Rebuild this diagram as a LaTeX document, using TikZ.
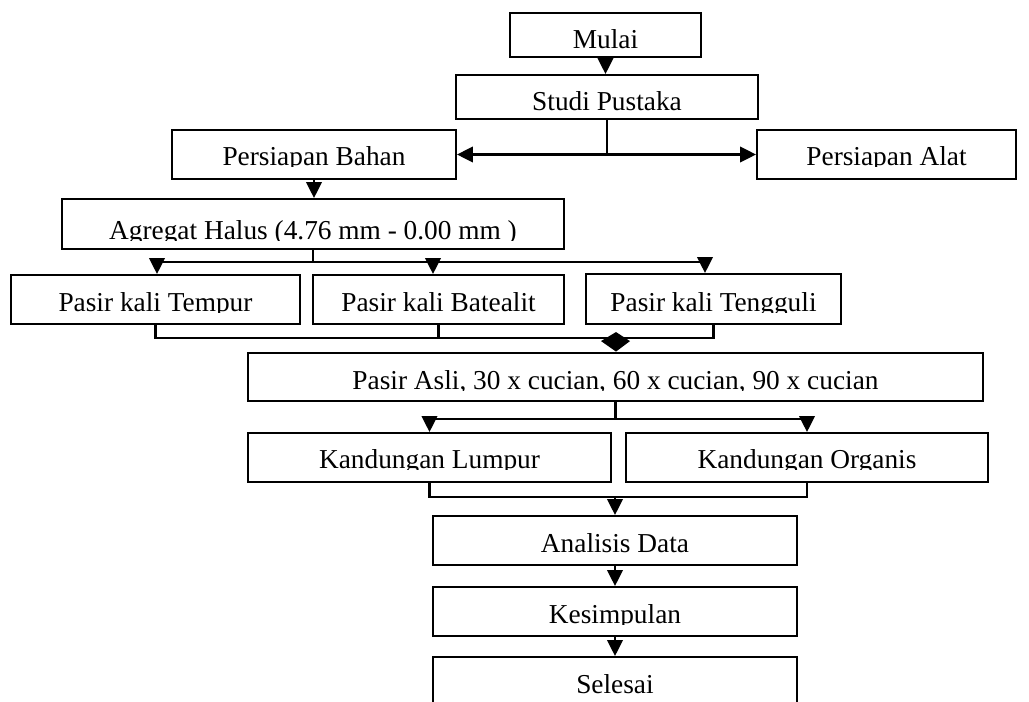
\documentclass[tikz,border=0pt]{standalone}
\usepackage{fontspec}
\setmainfont{Liberation Serif}
\usetikzlibrary{fit,arrows.meta,calc}
\tikzset{
  box/.style={draw, line width=1.4pt, inner sep=0pt, rectangle},
  conn/.style={line width=2pt},
  arr/.style={conn, -{Triangle[length=12pt,width=11.5pt]}},
  lbl/.style={anchor=base, inner sep=0pt, font=\fontsize{20.5}{24}\selectfont},
}
\newcommand\flowbox[7]{%
  \node[box, fit={(#2,#3) (#4,#5)}] (#1) {};
  \begin{scope}
    \clip (#2,#3) rectangle (#4,{#6+1.5});
    \node[lbl] (#1-t) at ({(#2+#4)/2},#6) {#7};
  \end{scope}}
\begin{document}
\begin{tikzpicture}[x=0.75pt,y=-0.75pt]
\useasboundingbox (0,0) rectangle (1029,701);
\clip (0,0) rectangle (1029,701);
\flowbox{mulai}{510}{13}{701}{57}{48}{Mulai}
\flowbox{studi}{456}{75}{758}{119}{110}{Studi Pustaka}
\flowbox{bahan}{172}{130}{456}{179}{165}{Persiapan Bahan}
\flowbox{alat}{757}{130}{1016}{179}{165}{Persiapan Alat}
\flowbox{agregat}{62}{199}{564}{249}{239}{Agregat Halus (4.76 mm - 0.00 mm )}
\flowbox{tempur}{11}{275}{300}{324}{311}{Pasir kali Tempur}
\flowbox{batealit}{313}{275}{564}{324}{311}{Pasir kali Batealit}
\flowbox{tengguli}{586}{274}{841}{324}{311}{Pasir kali Tengguli}
\flowbox{asli}{248}{353}{983}{401}{389}{Pasir Asli, 30 x cucian, 60 x cucian, 90 x cucian}
\flowbox{lumpur}{248}{433}{611}{482}{468}{Kandungan Lumpur}
\flowbox{organis}{626}{433}{988}{482}{468}{Kandungan Organis}
\flowbox{analisis}{433}{516}{797}{565}{552}{Analisis Data}
\flowbox{kesimpulan}{433}{587}{797}{636}{623}{Kesimpulan}
\flowbox{selesai}{433}{657}{797}{712}{693}{Selesai}
% connectors
\draw[arr] (mulai.south) -- (mulai.south |- studi.north);
\coordinate (s1) at (studi.south |- bahan.east);
\draw[conn] (studi.south) -- (s1);
\draw[arr] (s1) -- (bahan.east);
\draw[arr] (s1) -- (alat.west);
\draw[arr] (bahan.south) -- (bahan.south |- agregat.north);
\coordinate (a1) at ($(agregat.south)+(0,12)$);
\draw[conn] (agregat.south) -- (a1);
\draw[arr] (a1) -| ($(tempur.north)+(1.5,0)$);
\draw[arr] (a1) -| ($(batealit.north)+(-5.5,0)$);
\draw[arr] (a1) -| ($(tengguli.north)+(-8.5,0)$);
\coordinate (m1) at ($(asli.north)+(0.5,-14)$);
\draw[conn] (tempur.south) |- (m1);
\draw[conn] (batealit.south) |- (m1);
\draw[conn] (tengguli.south) |- (m1);
\fill ($(m1)+(0,-6)$) -- ($(m1)+(-15,3)$) -- ($(m1)+(0,13.5)$) -- ($(m1)+(14,3)$) -- cycle;
\coordinate (p1) at ($(asli.south)+(0,17)$);
\draw[conn] (asli.south) -- (p1);
\draw[arr] (p1) -| (lumpur.north);
\draw[arr] (p1) -| (organis.north);
\coordinate (q1) at ($(analisis.north)+(0,-18)$);
\draw[conn] (lumpur.south) |- (organis.south |- q1) -- (organis.south);
\draw[arr] (q1) -- (analisis.north);
\draw[arr] (analisis.south) -- (kesimpulan.north);
\draw[arr] (kesimpulan.south) -- (selesai.north);
\end{tikzpicture}
\end{document}
